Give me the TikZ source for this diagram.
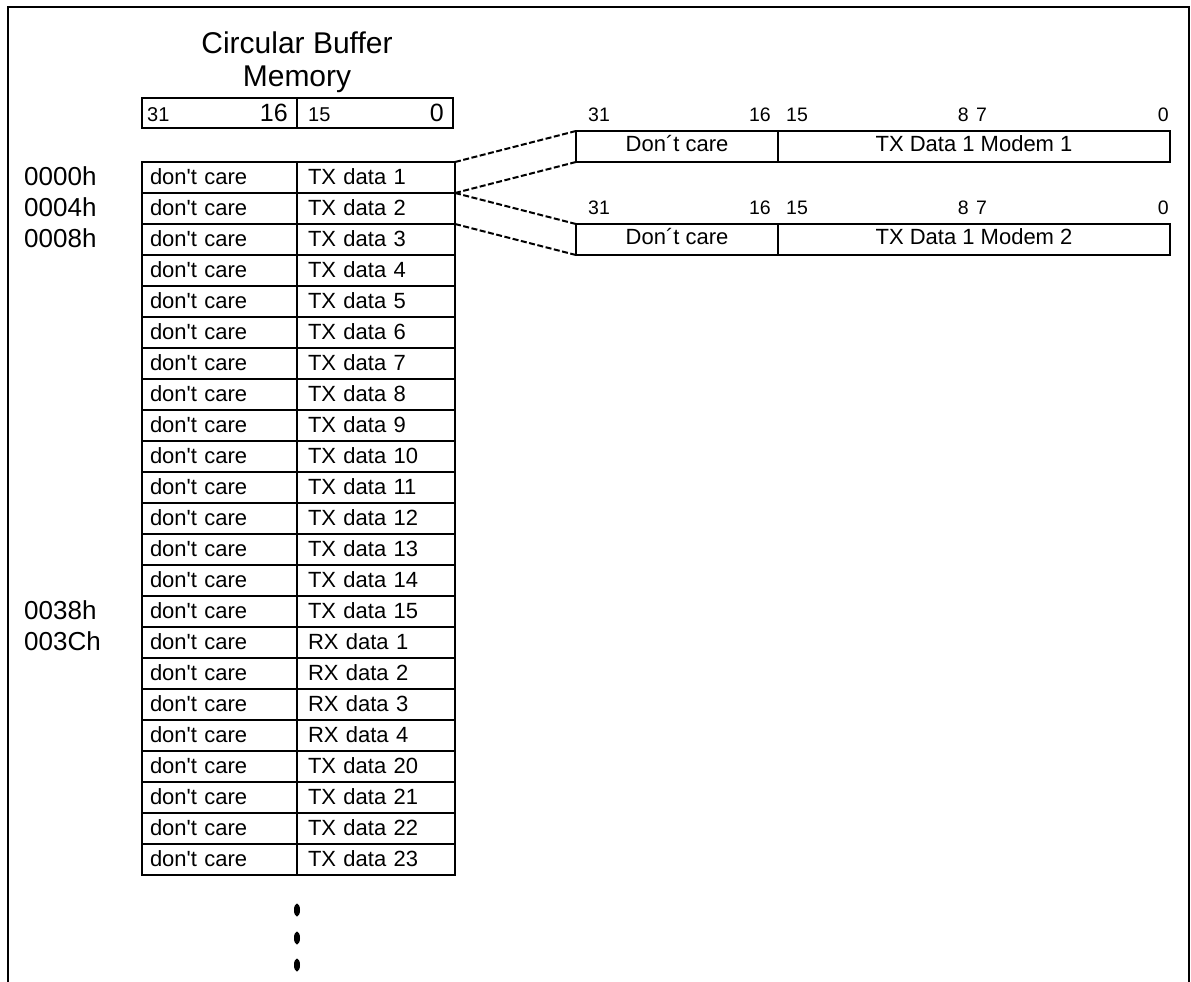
\documentclass[tikz,border=0pt]{standalone}
\usepackage{fontspec}
\setmainfont{Liberation Sans}
\usetikzlibrary{positioning}

\newcommand{\dontcare}{don\textquotesingle t care}

\begin{document}
\begin{tikzpicture}[x=1pt, y=-1pt,
  frame/.style={line width=2.8pt},
  cell/.style={draw, line width=2.5pt, outer sep=0pt, inner ysep=0pt, minimum height=31pt,
    align=left, font=\fontsize{22}{26}\selectfont, text height=16pt, text depth=3pt},
  lcell/.style={cell, anchor=north west, inner xsep=8pt, text width=139pt},
  rcell/.style={cell, inner xsep=11pt, text width=136pt},
  hdr/.style={draw, line width=2.5pt, outer sep=0pt, inner sep=0pt, minimum height=30pt},
  hdrsm/.style={font=\fontsize{20}{22}\selectfont, inner sep=0pt},
  hdrbig/.style={font=\fontsize{25}{27}\selectfont, inner sep=0pt},
  mbox/.style={draw, line width=2.5pt, outer sep=0pt, inner sep=0pt, minimum height=31pt,
    font=\fontsize{22}{24}\selectfont, text height=13pt, text depth=4pt},
  bitlbl/.style={font=\fontsize{19.5}{21}\selectfont, inner sep=0pt, anchor=base west},
  bitlblr/.style={bitlbl, anchor=base east},
  addr/.style={font=\fontsize{26}{28}\selectfont, inner sep=0pt, anchor=base west},
  ttl/.style={font=\fontsize{30}{31}\selectfont, inner sep=0pt, anchor=base},
  link/.style={dashed, dash pattern=on 6pt off 2.5pt, line width=2pt}
]
\useasboundingbox (0,0) rectangle (1191,982);
% open frame
\draw[frame] (8,982) -- (8,7) -- (1189,7) -- (1189,982);

% title and bit header
\node[ttl] (ttl1) at (297,54) {Circular Buffer};
\node[ttl] (ttl2) at (297,86) {Memory};
\node[hdr, anchor=north west, minimum width=155pt] (hdrL) at (142,98) {};
\node[hdr, right=0pt of hdrL, minimum width=156pt] (hdrR) {};
\node[hdrsm, anchor=base west] at ([shift={(5pt,-8pt)}]hdrL.west) {31};
\node[hdrbig, anchor=base east] at ([shift={(-9pt,-8pt)}]hdrL.east) {16};
\node[hdrsm, anchor=base west] at ([shift={(11pt,-8pt)}]hdrR.west) {15};
\node[hdrbig, anchor=base east] at ([shift={(-9pt,-8pt)}]hdrR.east) {0};

% buffer rows
\foreach \txt [count=\i] in {TX data 1, TX data 2, TX data 3, TX data 4, TX data 5,
    TX data 6, TX data 7, TX data 8, TX data 9, TX data 10, TX data 11, TX data 12,
    TX data 13, TX data 14, TX data 15, RX data 1, RX data 2, RX data 3, RX data 4,
    TX data 20, TX data 21, TX data 22, TX data 23} {
  \node[lcell] (lft-\i) at (142,{162+31*(\i-1)}) {\dontcare};
  \node[rcell, right=0pt of lft-\i] (rgt-\i) {\txt};
}

% addresses
\coordinate (addrx) at (24,0);
\foreach \i/\a in {1/0000h, 2/0004h, 3/0008h, 15/0038h, 16/003Ch}
  \node[addr] (addr-\i) at ([yshift=-1pt]addrx |- lft-\i.base) {\a};

% continuation dots
\foreach \d in {35,63,90}
  \fill ([yshift=-\d pt]rgt-23.south west) ellipse (3pt and 6.5pt);

% expanded words
\foreach \m/\n/\y in {A/1/131, B/2/224} {
  \node[mbox, anchor=north west, minimum width=202pt] (mdm\m-dc) at (576,\y) {Don´t care};
  \node[mbox, right=0pt of mdm\m-dc, minimum width=392pt] (mdm\m-tx) {TX Data 1 Modem \n};
  \node[bitlbl] at ([shift={(12pt,10pt)}]mdm\m-dc.north west) {31};
  \node[bitlblr] at ([shift={(-7pt,10pt)}]mdm\m-dc.north east) {16};
  \node[bitlbl] at ([shift={(8pt,10pt)}]mdm\m-tx.north west) {15};
  \node[bitlblr] at ([shift={(191pt,10pt)}]mdm\m-tx.north west) {8};
  \node[bitlbl] at ([shift={(198pt,10pt)}]mdm\m-tx.north west) {7};
  \node[bitlblr] at ([shift={(-1pt,10pt)}]mdm\m-tx.north east) {0};
}

% zoom lines
\draw[link] (rgt-1.north east) -- (mdmA-dc.north west);
\draw[link] (rgt-2.north east) -- (mdmA-dc.south west);
\draw[link] (rgt-2.north east) -- (mdmB-dc.north west);
\draw[link] (rgt-3.north east) -- (mdmB-dc.south west);
\end{tikzpicture}
\end{document}
